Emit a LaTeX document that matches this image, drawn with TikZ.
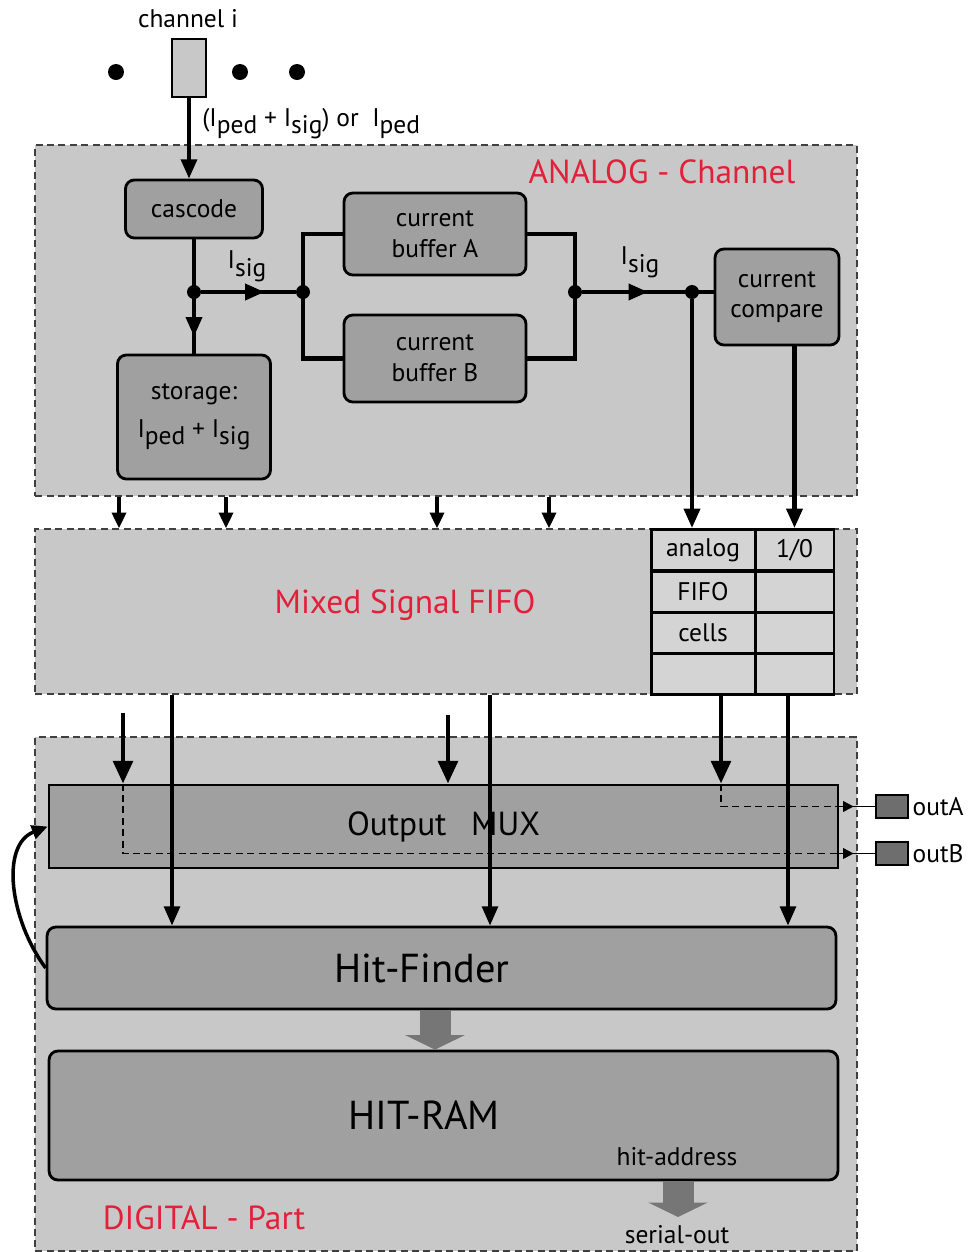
\documentclass[tikz,border=0pt]{standalone}
\usepackage{fontspec}
\setmainfont{PT Sans}
\usetikzlibrary{arrows.meta, decorations.markings}

\definecolor{regiongray}{RGB}{200,200,200}
\definecolor{boxgray}{RGB}{160,160,160}
\definecolor{cellgray}{RGB}{212,212,212}
\definecolor{padgray}{RGB}{110,110,110}
\definecolor{fatgray}{RGB}{118,118,118}
\definecolor{labelred}{RGB}{226,32,58}

\newcommand{\labfont}{\fontsize{14.5}{17.5}\selectfont}
\newcommand{\redfont}{\fontsize{19}{22}\selectfont}
\newcommand{\muxfont}{\fontsize{19}{22}\selectfont}
\newcommand{\blockfont}{\fontsize{23}{27}\selectfont}
\newcommand{\lowsub}[1]{\raisebox{-0.6ex}{#1}}

\begin{document}
\begin{tikzpicture}[x=0.02cm, y=-0.02cm,
  region/.style={draw=black!75, line width=0.8pt, dash pattern=on 4pt off 2.5pt, fill=regiongray, inner sep=0pt},
  block/.style={draw, line width=1.6pt, fill=boxgray, rounded corners=5pt, align=center, inner sep=0pt, font=\labfont},
  bar/.style={block, rounded corners=0pt},
  cell/.style={draw, line width=1.7pt, fill=cellgray, inner sep=0pt, minimum height=0.82cm, font=\labfont},
  pad/.style={draw, line width=0.9pt, fill=padgray, minimum width=0.64cm, minimum height=0.46cm, inner sep=0pt},
  dot/.style={circle, fill, inner sep=0pt, minimum size=0.28cm},
  lab/.style={font=\labfont, inner sep=0pt},
  redlabel/.style={text=labelred, font=\redfont, inner sep=0pt},
  wire/.style={line width=2.3pt},
  tip/.style={-{Triangle[length=11pt,width=9pt]}},
  thinarr/.style={line width=2pt, -{Triangle[length=11pt,width=9pt]}},
  thickarr/.style={line width=2.8pt, -{Triangle[length=13pt,width=11pt]}},
  shortarr/.style={line width=2pt, -{Triangle[length=9pt,width=8pt]}},
  fatarr/.style={draw=fatgray, line width=0.62cm, -{Triangle[length=0.29cm,width=1.18cm]}},
  dashline/.style={line width=0.8pt, dash pattern=on 4pt off 2.5pt},
  midarrow/.style={postaction={decorate}, decoration={markings, mark=at position #1 with {\arrow{Triangle[length=11pt,width=9pt]}}}},
  pinarrow/.style={postaction={decorate}, decoration={markings, mark=at position #1 with {\arrow{Triangle[length=6pt,width=6pt]}}}}
]
  \useasboundingbox (0,0) rectangle (974,1252);

  % the three parts
  \node[region, minimum width=16.44cm, minimum height=7.02cm] (analog) at (446,320.5) {};
  \node[region, minimum width=16.44cm, minimum height=3.30cm] (fifo) at (446,611.5) {};
  \node[region, minimum width=16.44cm, minimum height=10.28cm] (digital) at (446,994) {};
  \node[redlabel] (analoglabel) at (662,172) {ANALOG - Channel};
  \node[redlabel] (fifolabel) at (405,605) {Mixed Signal FIFO};
  \node[redlabel] (digitallabel) at (204,1218) {DIGITAL - Part};

  % channel input
  \node[lab, anchor=base] (chlabel) at (188,27) {channel i};
  \node[draw, line width=1.5pt, fill=regiongray, minimum width=0.68cm, minimum height=1.16cm, inner sep=0pt] (chan) at (189,68) {};
  \foreach \x in {116,240,297}
    \fill (\x,72) circle[radius=0.16cm];
  \node[lab, anchor=base west] (inlabel) at (202,126) {(I\lowsub{ped} + I\lowsub{sig}) or~ I\lowsub{ped}};

  % analog channel
  \node[block, minimum width=2.74cm, minimum height=1.16cm] (cascode) at (194,209) {cascode};
  \node[block, minimum width=3.06cm, minimum height=2.48cm] (storage) at (194,417) {storage:\\[4pt]I\lowsub{ped} + I\lowsub{sig}};
  \node[block, minimum width=3.64cm, minimum height=1.64cm] (bufA) at (435,234) {current\\buffer A};
  \node[block, minimum width=3.64cm, minimum height=1.74cm] (bufB) at (435,358.5) {current\\buffer B};
  \node[block, minimum width=2.48cm, minimum height=1.92cm] (compare) at (777,297) {current\\compare};
  \node[dot] (j1) at (194,292) {};
  \node[dot] (jl) at (303,292) {};
  \node[dot] (jr) at (575,292) {};
  \node[dot] (j3) at (692,292) {};

  \draw[wire, tip] (chan.south) -- (chan.south |- cascode.north);
  \draw[wire, midarrow=0.85] (cascode.south) -- (storage.north);
  \draw[wire, midarrow=0.67] (j1) -- (jl);
  \draw[wire] (jl.center) |- (bufA.west);
  \draw[wire] (jl.center) |- (bufB.west);
  \draw[wire] (bufA.east) -| (jr.center) |- (bufB.east);
  \draw[wire, midarrow=0.5] (jr) -- (jr -| compare.west);
  \node[lab] (isigA) at (247,266) {I\lowsub{sig}};
  \node[lab] (isigB) at (640,262) {I\lowsub{sig}};

  % fifo cells
  \node[cell, minimum width=2.08cm] (ana1) at (703,550) {analog};
  \node[cell, minimum width=1.58cm] (bit1) at (794.5,550) {1/0};
  \node[cell, minimum width=2.08cm] (ana2) at (703,591.5) {FIFO};
  \node[cell, minimum width=1.58cm] (bit2) at (794.5,591.5) {};
  \node[cell, minimum width=2.08cm] (ana3) at (703,632.5) {cells};
  \node[cell, minimum width=1.58cm] (bit3) at (794.5,632.5) {};
  \node[cell, minimum width=2.08cm] (ana4) at (703,673.5) {};
  \node[cell, minimum width=1.58cm] (bit4) at (794.5,673.5) {};

  \draw[wire, tip] (j3) -- (j3 |- ana1.north);
  \draw[wire, tip] (compare.south -| bit1.north) -- (bit1.north);
  \foreach \x in {119,226,437,549}
    \draw[shortarr] (analog.south -| \x,0) -- (fifo.north -| \x,0);

  % digital part
  \node[bar, minimum width=15.78cm, minimum height=1.66cm, font=\muxfont] (mux) at (443.5,826.5) {Output\hspace{14pt}MUX};
  \node[block, minimum width=15.78cm, minimum height=1.64cm, font=\blockfont] (hitf) at (441.5,968) {Hit-Finder\hspace*{22pt}};
  \node[block, minimum width=15.78cm, minimum height=2.58cm, font=\blockfont] (hitram) at (443.5,1115.5) {HIT-RAM\hspace*{22pt}};
  \node[lab] (addr) at (677,1157) {hit-address};
  \node[lab] (serial) at (677,1235) {serial-out};
  \node[pad] (outA) at (892,806.5) {};
  \node[pad] (outB) at (892,853.5) {};
  \node[lab, anchor=west] (outAlabel) at ([xshift=2pt]outA.east) {outA};
  \node[lab, anchor=west] (outBlabel) at ([xshift=2pt]outB.east) {outB};

  \coordinate (in1) at (123,713);
  \coordinate (in2) at (448,715);
  \coordinate (ta) at (mux.east |- outA.west);
  \coordinate (tb) at (mux.east |- outB.west);
  \coordinate (so) at (678,1217);

  \draw[dashline] (in1 |- mux.north) |- (tb);
  \draw[dashline] (mux.north -| 721,0) |- (ta);
  \draw[line width=1pt, pinarrow=0.4] (ta) -- (outA.west);
  \draw[line width=1pt, pinarrow=0.4] (tb) -- (outB.west);

  \draw[thickarr] (in1) -- (in1 |- mux.north);
  \draw[thickarr] (in2) -- (in2 |- mux.north);
  \draw[thickarr] (ana4.south -| 721,0) -- (mux.north -| 721,0);
  \draw[thinarr] (fifo.south -| 172,0) -- (hitf.north -| 172,0);
  \draw[thinarr] (fifo.south -| 490,0) -- (hitf.north -| 490,0);
  \draw[thinarr] (bit4.south -| 788,0) -- (hitf.north -| 788,0);
  \draw[line width=2pt, -{Triangle[length=9pt,width=8pt]}] (hitf.west) .. controls (10,920) and (0,845) .. (mux.west);

  \draw[fatarr] (hitf.south -| 435,0) -- (hitram.north -| 435,0);
  \draw[fatarr] (hitram.south -| so) -- (so);
\end{tikzpicture}
\end{document}
